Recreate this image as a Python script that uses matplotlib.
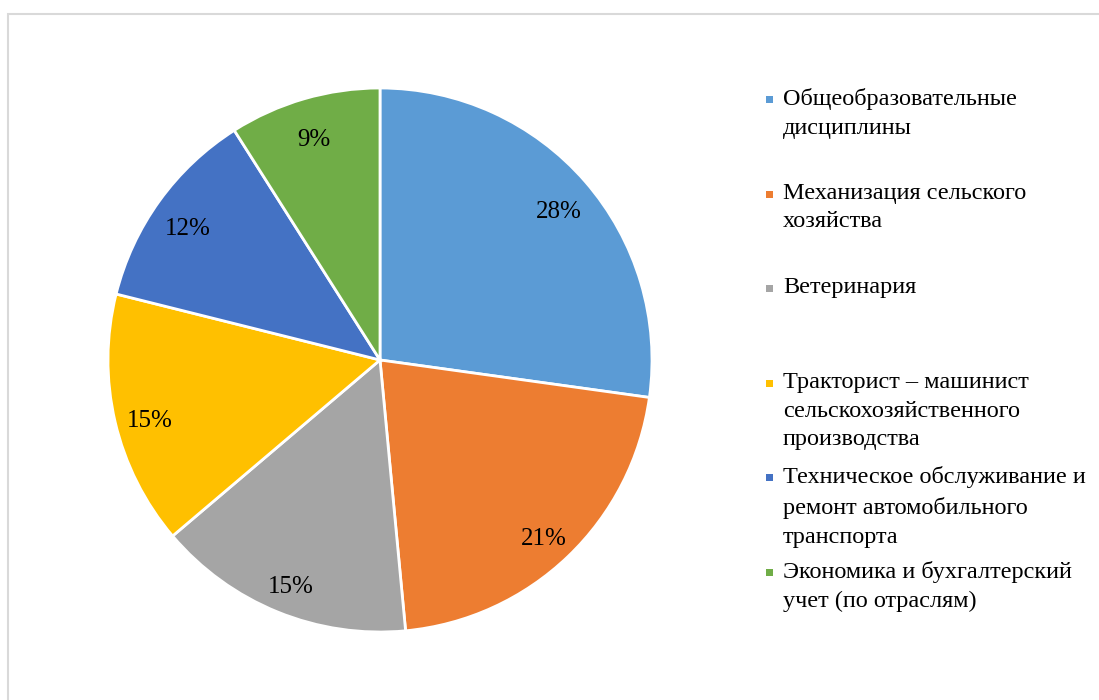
import numpy as np
import matplotlib.pyplot as plt
from matplotlib.patches import Rectangle

plt.rcParams['font.family'] = ['Liberation Serif', 'DejaVu Serif']

#data
labels = ['Общеобразовательные\nдисциплины',
          'Механизация сельского\nхозяйства',
          'Ветеринария',
          'Тракторист – машинист\nсельскохозяйственного\nпроизводства',
          'Техническое обслуживание и\nремонт автомобильного\nтранспорта',
          'Экономика и бухгалтерский\nучет (по отраслям)']
#slice sizes as drawn, and the labels as printed
shares = [27.2, 21.3, 15.3, 15.1, 12.1, 9.0]
pct_labels = ['28%', '21%', '15%', '15%', '12%', '9%']
colors = ['#5B9BD5', '#ED7D31', '#A5A5A5', '#FFC000', '#4472C4', '#70AD47']

W, H = 1099, 700
fig = plt.figure(figsize=(W/100, H/100), dpi=100)

#chart frame (cut off at right and bottom like the source)
fig.patches.append(Rectangle((8/W, -0.05), 1.1, (H-14)/H + 0.05,
                             transform=fig.transFigure, fill=False,
                             edgecolor='#d9d9d9', linewidth=1.5))

#pie: centre (380,360) px, radius 272 px
cx, cy, r = 380, 360, 272
ax = fig.add_axes([(cx-r)/W, (H-cy-r)/H, 2*r/W, 2*r/H])
wedges, texts, autotexts = ax.pie(shares, colors=colors, startangle=90,
                                  counterclock=False, autopct='%1.0f%%',
                                  pctdistance=0.87,
                                  wedgeprops=dict(edgecolor='white', linewidth=2),
                                  textprops=dict(fontsize=18, color='black'))
for t, s in zip(autotexts, pct_labels):
    t.set_text(s)
    x, y = t.get_position()
    t.set_position((x, y - 0.028))   # excel puts them a bit lower
ax.set_xlim(-1, 1)
ax.set_ylim(-1, 1)
ax.set_aspect('equal')
ax.axis('off')

#legend, entries evenly spaced
y0 = 88
step = 94.6
for i, (lab, c) in enumerate(zip(labels, colors)):
    y = y0 + i*step
    fig.text(783/W, 1 - y/H, lab, fontsize=17.5, va='top', ha='left',
             linespacing=1.49)
    fig.patches.append(Rectangle((766/W, 1 - (y+15)/H), 7/W, 7/H,
                                 transform=fig.transFigure,
                                 facecolor=c, edgecolor='none'))

plt.savefig('out.png', dpi=100)
